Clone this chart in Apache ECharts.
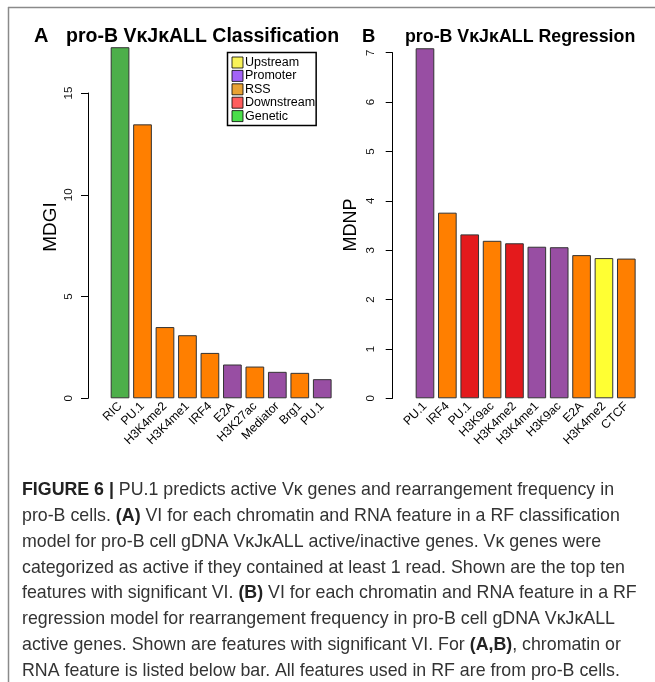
<!DOCTYPE html>
<html><head><meta charset="utf-8">
<script src="https://cdn.jsdelivr.net/npm/echarts@6/dist/echarts.min.js"></script>
<style>html,body{margin:0;padding:0;background:#fff}#c{width:655px;height:682px}</style>
</head><body><div id="c"></div>
<script>
// ---- data ----
const catA = ['RIC', 'PU.1', 'H3K4me2', 'H3K4me1', 'IRF4', 'E2A', 'H3K27ac', 'Mediator', 'Brg1', 'PU.1'];
const valA = [17.25, 13.46, 3.50, 3.10, 2.23, 1.66, 1.56, 1.30, 1.25, 0.94];
const groupA = ['Genetic', 'RSS', 'RSS', 'RSS', 'RSS', 'Promoter', 'RSS', 'Promoter', 'RSS', 'Promoter'];

const catB = ['PU.1', 'IRF4', 'PU.1', 'H3K9ac', 'H3K4me2', 'H3K4me1', 'H3K9ac', 'E2A', 'H3K4me2', 'CTCF'];
const valB = [7.09, 3.76, 3.32, 3.19, 3.14, 3.07, 3.06, 2.90, 2.84, 2.83];
const groupB = ['Promoter', 'RSS', 'Downstream', 'RSS', 'Downstream', 'Promoter', 'Promoter', 'RSS', 'Upstream', 'RSS'];

const legendNames = ['Upstream', 'Promoter', 'RSS', 'Downstream', 'Genetic'];
const yTicksA = [0, 5, 10, 15];
const yTicksB = [0, 1, 2, 3, 4, 5, 6, 7];

const captionLines = [
  '{b|FIGURE 6 |} PU.1 predicts active Vκ genes and rearrangement frequency in',
  'pro-B cells. {b|(A)} VI for each chromatin and RNA feature in a RF classification',
  'model for pro-B cell gDNA VκJκALL active/inactive genes. Vκ genes were',
  'categorized as active if they contained at least 1 read. Shown are the top ten',
  'features with significant VI. {b|(B)} VI for each chromatin and RNA feature in a RF',
  'regression model for rearrangement frequency in pro-B cell gDNA VκJκALL',
  'active genes. Shown are features with significant VI. For {b|(A,B)}, chromatin or',
  'RNA feature is listed below bar. All features used in RF are from pro-B cells.'
];

// ---- styles ----
const barColors = { Upstream: '#FFFF33', Promoter: '#984EA3', RSS: '#FF7F00', Downstream: '#E41A1C', Genetic: '#4DAF4A' };
const legendColors = { Upstream: '#F8F030', Promoter: '#8C3CF5', RSS: '#E38B00', Downstream: '#FF3434', Genetic: '#1BD61B' };
const FONT = '"Liberation Sans", Arial, Helvetica, sans-serif';

const chart = echarts.init(document.getElementById('c'), null, { renderer: 'canvas' });

function yAxisCfg(grid, max, interval, offset, margin) {
  return {
    type: 'value', gridIndex: grid, min: 0, max: max, interval: interval, offset: offset,
    splitLine: { show: false },
    axisLine: { show: true, lineStyle: { color: '#000', width: 1 } },
    axisTick: { show: true, length: 7, lineStyle: { color: '#000', width: 1 } },
    axisLabel: { rotate: 90, margin: margin, fontSize: 11.5, color: '#111', fontFamily: FONT }
  };
}
function xAxisCfg(grid, cats) {
  return {
    type: 'category', gridIndex: grid, data: cats,
    axisLine: { show: false }, axisTick: { show: false }, splitLine: { show: false },
    axisLabel: { interval: 0, rotate: 45, margin: 6, fontSize: 12.2, color: '#000', fontFamily: FONT }
  };
}
function barSeries(idx, vals, groups) {
  return {
    type: 'bar', xAxisIndex: idx, yAxisIndex: idx, barWidth: '83.3%', clip: false,
    data: vals.map((v, i) => ({ value: v, itemStyle: { color: barColors[groups[i]] } })),
    itemStyle: { borderColor: '#333', borderWidth: 1 },
    emphasis: { disabled: true }, animation: false
  };
}

const legendSeries = legendNames.map(n => ({
  name: n, type: 'scatter', xAxisIndex: 0, yAxisIndex: 0, data: [],
  itemStyle: { color: legendColors[n] }
}));

const captionGraphics = captionLines.map((t, i) => ({
  type: 'text', left: 22, top: 481 + i * 25.9,
  style: {
    text: t, fontSize: 17.8, fontFamily: FONT, fill: '#333',
    rich: { b: { fontWeight: 'bold', fontSize: 17.8, fontFamily: FONT, fill: '#222' } }
  }
}));

const option = {
  animation: false,
  backgroundColor: '#fff',
  textStyle: { fontFamily: FONT },
  title: [
    { text: 'A', left: 29, top: 21, textStyle: { fontSize: 20, fontWeight: 'bold', color: '#000', fontFamily: FONT } },
    { text: 'pro-B VκJκALL Classification', left: 61, top: 22, textStyle: { fontSize: 19.5, fontWeight: 'bold', color: '#000', fontFamily: FONT } },
    { text: 'B', left: 357, top: 22, textStyle: { fontSize: 18.5, fontWeight: 'bold', color: '#000', fontFamily: FONT } },
    { text: 'pro-B VκJκALL Regression', left: 400, top: 23, textStyle: { fontSize: 17.8, fontWeight: 'bold', color: '#000', fontFamily: FONT } }
  ],
  legend: {
    data: legendNames, selectedMode: false, orient: 'vertical', left: 227.5, top: 52.5,
    icon: 'rect', itemWidth: 11, itemHeight: 11, itemGap: 0.4,
    padding: [3.5, 1, 3, 4], borderColor: '#000', borderWidth: 1.5,
    itemStyle: { borderColor: '#000', borderWidth: 1 },
    textStyle: { fontSize: 12.5, lineHeight: 12, color: '#000', fontFamily: FONT, padding: [0, 0, 0, -3] }
  },
  grid: [
    { left: 108.8, width: 224.7, top: 93, bottom: 283.7, containLabel: false },
    { left: 413.8, width: 223.7, top: 52.7, bottom: 283.7, containLabel: false }
  ],
  xAxis: [xAxisCfg(0, catA), xAxisCfg(1, catB)],
  yAxis: [yAxisCfg(0, 15, 5, 20.8, 13.5), yAxisCfg(1, 7, 1, 21.1, 15.5)],
  series: [barSeries(0, valA, groupA), barSeries(1, valB, groupB)].concat(legendSeries),
  graphic: [
    { type: 'line', shape: { x1: 8, y1: 7.5, x2: 655, y2: 7.5 }, style: { stroke: '#8a8a8a', lineWidth: 1.5 } },
    { type: 'line', shape: { x1: 8.5, y1: 7, x2: 8.5, y2: 682 }, style: { stroke: '#8a8a8a', lineWidth: 1.5 } },
    { type: 'text', x: 51, y: 227, rotation: Math.PI / 2,
      style: { text: 'MDGI', fontSize: 19, fontFamily: FONT, fill: '#000', textAlign: 'center', textVerticalAlign: 'middle' } },
    { type: 'text', x: 351, y: 225, rotation: Math.PI / 2,
      style: { text: 'MDNP', fontSize: 18, fontFamily: FONT, fill: '#000', textAlign: 'center', textVerticalAlign: 'middle' } }
  ].concat(captionGraphics)
};
chart.setOption(option);
</script>
</body></html>
